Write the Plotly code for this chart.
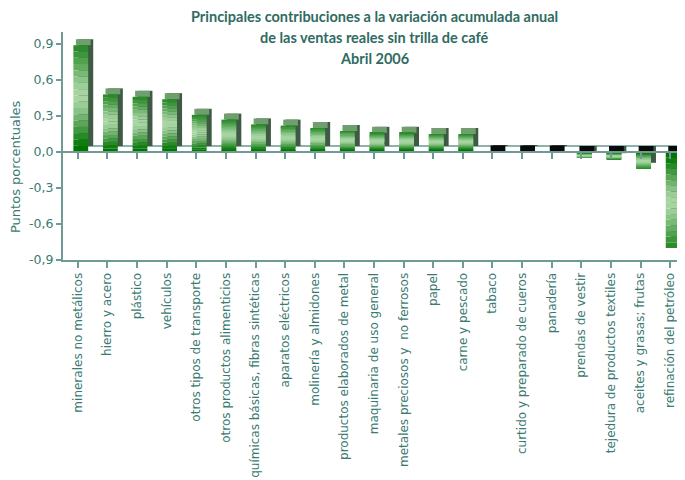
import plotly.graph_objects as go

categories = [
    "minerales no metálicos", "hierro y acero", "plástico", "vehículos",
    "otros tipos de transporte", "otros productos alimenticios",
    "químicas básicas, fibras sintéticas", "aparatos eléctricos",
    "molinería y almidones", "productos elaborados de metal",
    "maquinaria de uso general", "metales preciosos y  no ferrosos",
    "papel", "carne y pescado", "tabaco", "curtido y preparado de cueros",
    "panadería", "prendas de vestir", "tejedura de productos textiles",
    "aceites y grasas; frutas", "refinación del petróleo",
]
values = [0.89, 0.48, 0.46, 0.44, 0.31, 0.27, 0.23, 0.22, 0.20, 0.175,
          0.16, 0.16, 0.15, 0.15, 0.005, 0.004, 0.004, -0.05, -0.06, -0.14, -0.80]
y_ticks = [0.9, 0.6, 0.3, 0.0, -0.3, -0.6, -0.9]
y_ticktext = [f"{v:.1f}".replace(".", ",") for v in y_ticks]
title_lines = ["Principales contribuciones a la variación acumulada anual",
               "de las ventas reales sin trilla de café",
               "Abril 2006"]

TEXT = "#3a7a72"
AXIS = "#6f9a95"
DEPTH_Y = 0.05
DEPTH_X = 0.17
FRONT_OFF = -0.15
BAR_W = 0.5
xs = list(range(len(categories)))

fig = go.Figure()

# side face (depth)
fig.add_trace(go.Bar(
    x=xs, y=values, base=[DEPTH_Y] * len(values),
    width=BAR_W, offset=FRONT_OFF + DEPTH_X,
    marker=dict(color="#3e5a44", line=dict(width=0)), hoverinfo="skip", showlegend=False,
))
# top face
top_base = [max(v, 0) for v in values]
top_col = ["#6f9f6c" if v > 0.05 else "#0a0a0a" for v in values]
fig.add_trace(go.Bar(
    x=xs, y=[DEPTH_Y] * len(values), base=top_base,
    width=BAR_W, offset=FRONT_OFF + DEPTH_X / 2,
    marker=dict(color=top_col, line=dict(width=0)), hoverinfo="skip", showlegend=False,
))

# front face as vertical gradient (top -> bottom)
grad = ["#2c8c2c", "#3c963c", "#4fa24e", "#63ad61", "#78b975", "#8cc588", "#9ccf98",
        "#a6d5a2", "#a6d5a2", "#9acd96", "#88c284", "#72b46f", "#5aa657", "#41983f",
        "#268a26", "#0e7e0e", "#007600"]
n = len(grad)
for i, col in enumerate(grad):
    bases = [v * (n - 1 - i) / n for v in values]
    seg = [v / n for v in values]
    fig.add_trace(go.Bar(
        x=xs, y=seg, base=bases,
        width=BAR_W, offset=FRONT_OFF,
        marker=dict(color=col, line=dict(width=0)), hoverinfo="skip", showlegend=False,
    ))

# 3D floor line
fig.add_shape(type="line", xref="x", yref="y", x0=FRONT_OFF + DEPTH_X, x1=len(categories) - 0.5,
              y0=DEPTH_Y, y1=DEPTH_Y, line=dict(color="#8fb0ac", width=2), layer="below")

# the page body has an 8px margin, so the figure is 8px smaller and margins shifted
W, H = 677, 472
L, R, T, B = 55, 0, 24, 220
PH = H - T - B

def py(fig_y):
    return 1 + (T - fig_y) / PH

annotations = [dict(
    text="Puntos porcentuales", xref="paper", yref="paper",
    x=(7 - L) / (W - L - R), y=py(158), xanchor="center", yanchor="middle",
    textangle=-90, showarrow=False,
    font=dict(family="DejaVu Sans", size=13, color=TEXT),
)]
for line, fy in zip(title_lines, [9, 30, 50]):
    annotations.append(dict(
        text=f"<b>{line}</b>", xref="paper", yref="paper", x=0.5, y=py(fy),
        xanchor="center", yanchor="middle", showarrow=False,
        font=dict(family="Lato", size=14.5, color="#2f6b62"),
    ))

fig.update_layout(
    width=W, height=H,
    margin=dict(l=L, r=R, t=T, b=B, autoexpand=False),
    paper_bgcolor="white", plot_bgcolor="white",
    barmode="overlay",
    font=dict(family="DejaVu Sans", color=TEXT, size=12),
    xaxis=dict(
        tickmode="array", tickvals=xs, ticktext=categories,
        range=[-0.5, len(categories) - 0.5], tickangle=-90, automargin=False,
        showline=True, linecolor=AXIS, linewidth=2, ticks="outside", tickson="boundaries",
        tickcolor=AXIS, ticklen=6, tickwidth=2, showgrid=False, zeroline=False,
        tickfont=dict(family="DejaVu Sans", size=12, color=TEXT),
    ),
    xaxis2=dict(
        overlaying="x", matches="x", anchor="free", position=0.9 / 1.9,
        tickmode="array", tickvals=xs, automargin=False,
        showline=True, linecolor=AXIS, linewidth=2, ticks="outside", tickson="boundaries",
        tickcolor=AXIS, ticklen=6, tickwidth=2, showticklabels=False, showgrid=False,
        zeroline=False, side="bottom",
    ),
    yaxis=dict(
        range=[-0.9, 1.0], tickmode="array", tickvals=y_ticks, ticktext=y_ticktext,
        automargin=False,
        showline=True, linecolor=AXIS, linewidth=2, ticks="outside", tickcolor=AXIS,
        ticklen=5, tickwidth=2, showgrid=False, zeroline=False,
        tickfont=dict(family="DejaVu Sans", size=12.5, color=TEXT),
    ),
    annotations=annotations,
)

fig.add_trace(go.Scatter(x=[0], y=[0], xaxis="x2", mode="markers",
                         marker=dict(opacity=0), hoverinfo="skip", showlegend=False))

fig.write_html("out.html")
